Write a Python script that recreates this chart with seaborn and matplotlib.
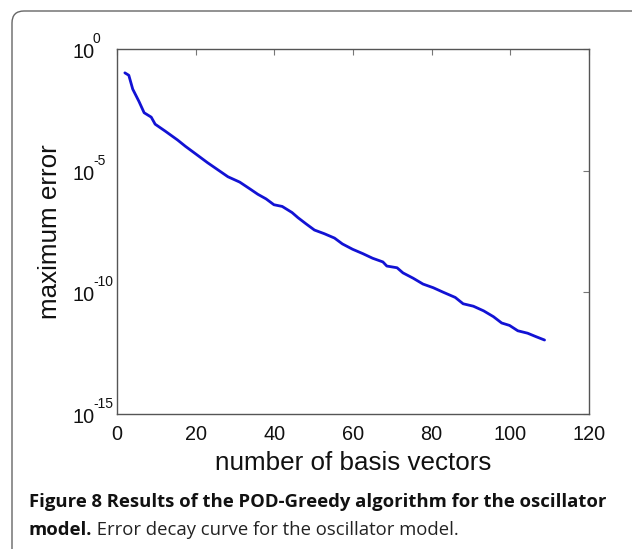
import numpy as np
import matplotlib
matplotlib.use("Agg")
import matplotlib.pyplot as plt
import matplotlib.transforms as mtransforms
from matplotlib.patches import FancyBboxPatch
import seaborn as sns

# values
n_basis = [2, 3, 4, 5.6, 6.9, 8.7, 9.7, 12.3, 15.4, 17.4, 20, 21.5, 23, 25.6,
           28.2, 31.2, 33.8, 35.8, 37.9, 39.9, 42, 44.5, 46, 48.1, 50.2, 52.7,
           55.3, 57.3, 59.9, 62.5, 65, 67.6, 68.6, 71.2, 72.7, 75.3, 77.8, 80.4,
           83, 86, 88, 90.6, 93.2, 95.7, 97.8, 99.8, 101.9, 104.4, 106.5, 108.7]
log_err = [-0.98, -1.08, -1.65, -2.16, -2.62, -2.80, -3.09, -3.38, -3.74, -4.0,
           -4.31, -4.49, -4.67, -4.96, -5.25, -5.47, -5.75, -5.97, -6.16, -6.40,
           -6.47, -6.72, -6.93, -7.19, -7.44, -7.59, -7.77, -8.01, -8.23, -8.41,
           -8.60, -8.75, -8.92, -8.99, -9.20, -9.42, -9.66, -9.81, -10.0, -10.21,
           -10.47, -10.57, -10.76, -11.0, -11.26, -11.36, -11.58, -11.68, -11.82,
           -11.96]
max_error = [10 ** v for v in log_err]

x_ticks = [0, 20, 40, 60, 80, 100, 120]
y_ticks = [1e-15, 1e-10, 1e-5, 1e0]
y_tick_base = ["10", "10", "10", "10"]
y_tick_exp = ["-15", "-10", "-5", "0"]

sns.set_style("white")
plt.rcParams["font.family"] = ["Liberation Sans", "DejaVu Sans"]

W, H = 632, 549
fig = plt.figure(figsize=(W / 100, H / 100), dpi=100)

# rounded frame around the figure panel
frame = FancyBboxPatch((12, -40), 700, 549 - 11 + 40,
                       boxstyle="round,pad=0,rounding_size=12",
                       transform=mtransforms.IdentityTransform(),
                       facecolor="none", edgecolor="#666666", linewidth=1.0,
                       zorder=-1)
fig.patches.append(frame)

ax = fig.add_axes([117 / W, (H - 414) / H, (589 - 117) / W, (414 - 49) / H])
sns.lineplot(x=n_basis, y=max_error, ax=ax, color="#1212d4", linewidth=2.0)
ax.set_yscale("log")
ax.set_xlim(0, 120)
ax.set_ylim(1e-15, 1e0)
ax.set_xticks(x_ticks)
ax.set_yticks(y_ticks)
ax.set_yticklabels(y_tick_base, ha="left")
ax.minorticks_off()
ax.tick_params(direction="in", length=4, color="#777777", top=True, right=True,
               labelsize=14.3, labelcolor="#111111")
ax.tick_params(axis="x", pad=8)
ax.tick_params(axis="y", pad=(117 - 72) * 0.72)
for lbl in ax.get_yticklabels():
    lbl.set_y(lbl.get_position()[1])
    lbl.set_transform(lbl.get_transform() + mtransforms.ScaledTranslation(0, -1.5 / 100, fig.dpi_scale_trans))

# superscript exponents next to each "10"
for yv, ex in zip(y_ticks, y_tick_exp):
    ax.annotate(ex, xy=(0, yv), xycoords=("axes fraction", "data"),
                xytext=(93 - 117, 6), textcoords="offset pixels",
                fontsize=10, color="#111111", ha="left", va="baseline",
                annotation_clip=False)

for s in ax.spines.values():
    s.set_color("#555555")
    s.set_linewidth(1.0)
ax.set_xlabel("number of basis vectors", fontsize=18.7, color="#111111", labelpad=5)
ax.set_ylabel("maximum error", fontsize=18.7, color="#111111")
ax.yaxis.set_label_coords((62 - 117) / 472, 0.5)

cap_font = ["Open Sans", "DejaVu Sans"]
cap_size = 13.3
fig.text(29 / W, 1 - 507 / H,
         "Figure 8 Results of the POD-Greedy algorithm for the oscillator",
         fontsize=cap_size, fontweight="bold", family=cap_font, color="#111111",
         va="baseline")
t2 = fig.text(29 / W, 1 - 535 / H, "model.", fontsize=cap_size, fontweight="bold",
              family=cap_font, color="#111111", va="baseline")
fig.canvas.draw()
bb = t2.get_window_extent()
fig.text(bb.x1 / W, 1 - 535 / H, " Error decay curve for the oscillator model.",
         fontsize=cap_size, family=cap_font, color="#222222", va="baseline")

fig.savefig("out.png", dpi=100)
